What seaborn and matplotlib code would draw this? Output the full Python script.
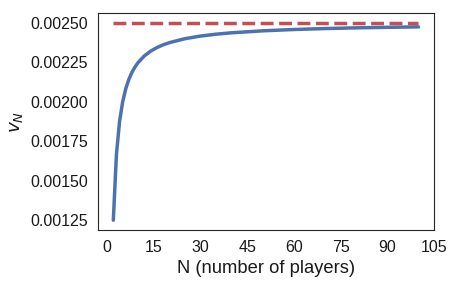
import matplotlib
matplotlib.use("Agg")
import matplotlib.pyplot as plt
import numpy as np
import pandas as pd
import seaborn as sns

# values
n_players = [2, 3, 4, 5, 6, 7, 8, 9, 10, 12, 14, 16, 18, 20, 25, 30, 35, 40,
             50, 60, 70, 80, 90, 100]
v_n = [0.00125, 0.0016667, 0.001875, 0.002, 0.0020833, 0.0021429, 0.0021875,
       0.0022222, 0.00225, 0.0022917, 0.0023214, 0.0023438, 0.0023611, 0.002375,
       0.0024, 0.0024167, 0.0024286, 0.0024375, 0.00245, 0.0024583, 0.0024643,
       0.0024688, 0.0024722, 0.002475]
limit_value = 0.0025
x_ticks = [0, 15, 30, 45, 60, 75, 90, 105]
y_ticks = [0.00125, 0.0015, 0.00175, 0.002, 0.00225, 0.0025]

sns.set_style("white")
plt.rcParams['font.family'] = ['Liberation Sans', 'DejaVu Sans']

df = pd.DataFrame({"N": n_players, "v": v_n})
limit_df = pd.DataFrame({"N": [n_players[0], n_players[-1]],
                         "v": [limit_value, limit_value]})

fig = plt.figure(figsize=(4.54, 2.84), dpi=100)
ax = fig.add_axes([0.216, 0.19, 0.74, 0.764])

sns.lineplot(data=limit_df, x="N", y="v", color="#C44E52", linewidth=2.5,
             linestyle="--", ax=ax)
sns.lineplot(data=df, x="N", y="v", color="#4C72B0", linewidth=2.5, ax=ax)

ax.set_xticks(x_ticks)
ax.set_yticks(y_ticks)
ax.set_yticklabels([f"{t:.5f}" for t in y_ticks])
ax.tick_params(labelsize=11.5, colors="0.1")
ax.set_xlabel("N (number of players)", fontsize=13.2, color="0.1")
ax.set_ylabel("$v_N$", fontsize=13.2, color="0.1")

fig.savefig("out.png", dpi=100)
